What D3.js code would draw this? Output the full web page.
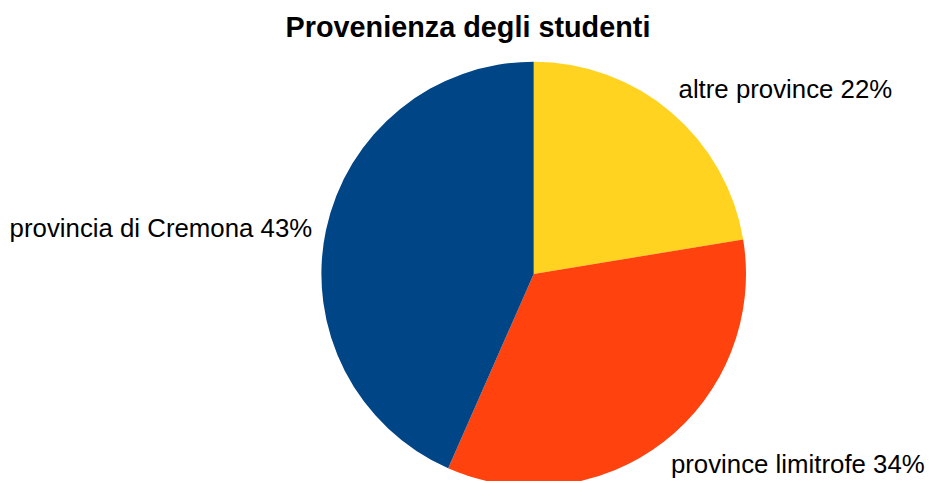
<!DOCTYPE html>
<html>
<head>
<meta charset="utf-8">
<script src="https://cdn.jsdelivr.net/npm/d3@7"></script>
<style>
  body { margin: 0; background: #fff; }
  svg { display: block; font-family: "Liberation Sans", Arial, sans-serif; }
</style>
</head>
<body>
<div id="chart"></div>
<script>
// Data
const categories = ["altre province", "province limitrofe", "provincia di Cremona"];
const values = [22.4, 34.2, 43.4];
const colors = ["#FFD320", "#FF420E", "#004586"];
const titleText = "Provenienza degli studenti";

const width = 931;
const height = 481;
const cx = 533.7, cy = 274, radius = 212.3;

const svg = d3.select("#chart")
  .append("svg")
  .attr("width", width)
  .attr("height", height);

svg.append("text")
  .attr("x", 468)
  .attr("y", 37)
  .attr("text-anchor", "middle")
  .style("font-size", "28.8px")
  .style("font-weight", "bold")
  .attr("fill", "#000")
  .text(titleText);

const total = d3.sum(values);
const data = categories.map((c, i) => ({ name: c, value: values[i], color: colors[i] }));

const pie = d3.pie().value(d => d.value).sort(null);
const arc = d3.arc().innerRadius(0).outerRadius(radius);
const labelArc = d3.arc().innerRadius(radius + 10).outerRadius(radius + 10);

const g = svg.append("g").attr("transform", `translate(${cx},${cy})`);

const arcs = pie(data);

g.selectAll("path")
  .data(arcs)
  .enter()
  .append("path")
  .attr("d", arc)
  .attr("fill", d => d.data.color);

// labels outside the pie
g.selectAll("text")
  .data(arcs)
  .enter()
  .append("text")
  .style("font-size", "25.8px")
  .attr("fill", "#000")
  .each(function (d) {
    const mid = (d.startAngle + d.endAngle) / 2;
    const [x, y] = labelArc.centroid(d);
    const s = Math.sin(mid), c = Math.cos(mid);
    const t = d3.select(this)
      .attr("x", x + (s > 0 ? 1 : -4))
      .attr("y", y)
      .attr("text-anchor", s > 0.2 ? "start" : s < -0.2 ? "end" : "middle")
      .text(`${d.data.name} ${Math.round(d.data.value / total * 100)}%`);
    // vertical placement: above for top half, below for bottom half, centred at the sides
    if (c > 0.3) t.attr("dy", "-0.25em");
    else if (c < -0.3) t.attr("dy", "0.92em");
    else t.attr("dy", "0.35em");
  });
</script>
</body>
</html>
